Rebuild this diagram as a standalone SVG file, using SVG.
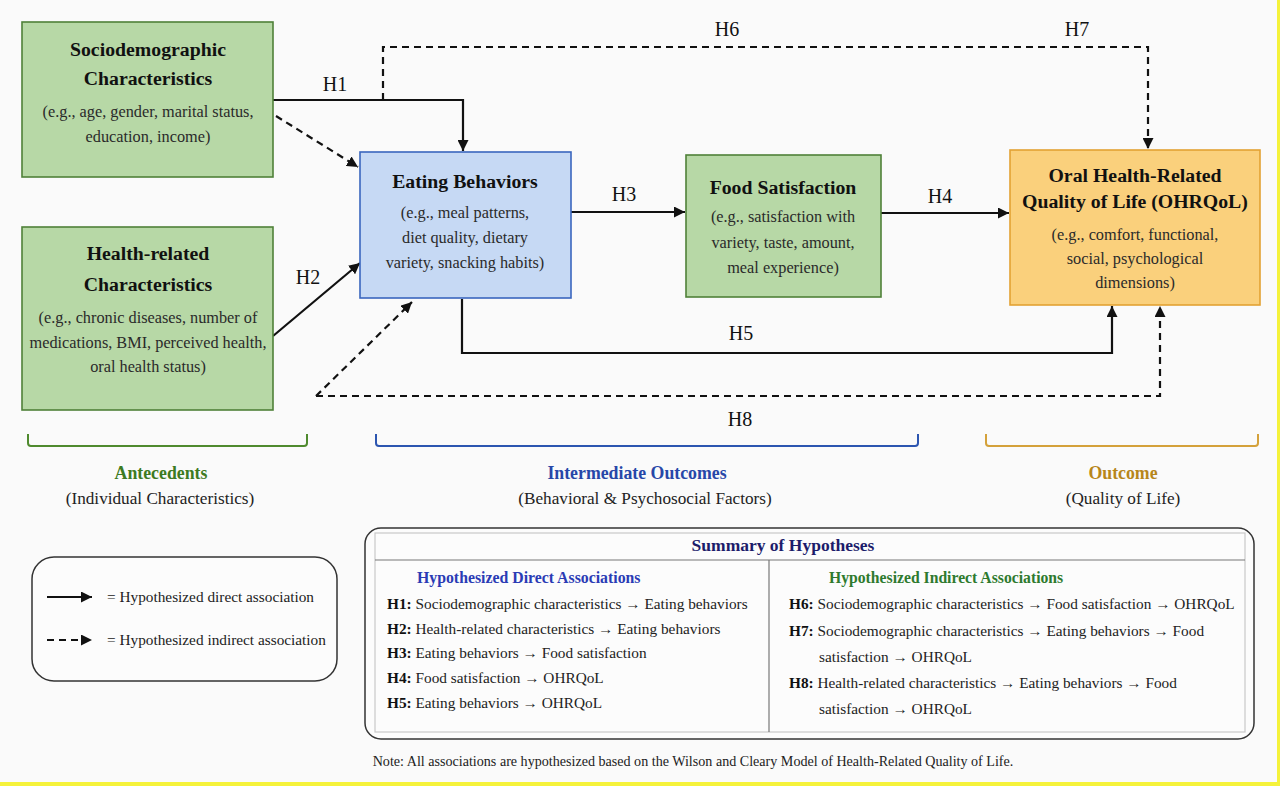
<svg xmlns="http://www.w3.org/2000/svg" width="1280" height="786" viewBox="0 0 1280 786" font-family="'Liberation Serif', 'DejaVu Serif', 'Noto Serif', serif">
<defs>
<marker id="ah" viewBox="0 0 10 10" refX="10" refY="5" markerWidth="11" markerHeight="11" markerUnits="userSpaceOnUse" orient="auto">
<path d="M0,0 L10,5 L0,10 z" fill="#111"/>
</marker>
<style>
text{fill:#222}
.t{font-size:19.8px;font-weight:bold;text-anchor:middle;fill:#111}
.b{font-size:16.3px;text-anchor:middle;fill:#2a2a2a}
.h{font-size:20px;text-anchor:middle;fill:#111}
.sol{fill:none;stroke:#111;stroke-width:2.2}
.dsh{fill:none;stroke:#111;stroke-width:2.2;stroke-dasharray:7,5}
.s{font-size:15.3px;fill:#222}
.k{font-weight:bold;fill:#111}
.bl{font-size:17.8px;font-weight:bold;text-anchor:middle}
.bs{font-size:17.2px;text-anchor:middle}
</style>
</defs>
<rect x="0" y="0" width="1280" height="786" fill="#fafafa"/>
<rect x="1277" y="0" width="3" height="786" fill="#f5f23a"/>
<rect x="0" y="782" width="1280" height="4" fill="#f5f23a"/>

<g id="connectors">
<path class="sol" d="M273,100 H463 V151" marker-end="url(#ah)"/>
<path class="dsh" d="M383,100 V47 H1148 V149" marker-end="url(#ah)"/>
<path class="dsh" d="M276,116 L358,167" marker-end="url(#ah)"/>
<path class="sol" d="M273,336 L360,263" marker-end="url(#ah)"/>
<path class="dsh" d="M316,396 L412,302" marker-end="url(#ah)"/>
<path class="dsh" d="M316,396 H1160 V306" marker-end="url(#ah)"/>
<path class="sol" d="M571,212 H685" marker-end="url(#ah)"/>
<path class="sol" d="M881,213 H1009" marker-end="url(#ah)"/>
<path class="sol" d="M462,299 V353 H1112 V306" marker-end="url(#ah)"/>
<text class="h" x="335" y="91">H1</text>
<text class="h" x="308" y="284">H2</text>
<text class="h" x="624" y="201">H3</text>
<text class="h" x="940" y="203">H4</text>
<text class="h" x="741" y="340">H5</text>
<text class="h" x="727" y="36">H6</text>
<text class="h" x="1077" y="36">H7</text>
<text class="h" x="740" y="426">H8</text>
</g>

<g id="sociodemographic">
<rect x="22" y="22" width="251" height="155" fill="#b7d8a6" stroke="#4f8139" stroke-width="1.6"/>
<text class="t" x="148" y="56">Sociodemographic</text>
<text class="t" x="148" y="85">Characteristics</text>
<text class="b" x="148" y="117">(e.g., age, gender, marital status,</text>
<text class="b" x="148" y="142">education, income)</text>
</g>

<g id="health">
<rect x="22" y="227" width="251" height="183" fill="#b7d8a6" stroke="#4f8139" stroke-width="1.6"/>
<text class="t" x="148" y="260">Health-related</text>
<text class="t" x="148" y="291">Characteristics</text>
<text class="b" x="148" y="323">(e.g., chronic diseases, number of</text>
<text class="b" x="148" y="348">medications, BMI, perceived health,</text>
<text class="b" x="148" y="372">oral health status)</text>
</g>

<g id="eating">
<rect x="360" y="152" width="211" height="146" fill="#c6d9f4" stroke="#3a66be" stroke-width="1.6"/>
<text class="t" x="465" y="188">Eating Behaviors</text>
<text class="b" x="465" y="218">(e.g., meal patterns,</text>
<text class="b" x="465" y="243">diet quality, dietary</text>
<text class="b" x="465" y="268">variety, snacking habits)</text>
</g>

<g id="food">
<rect x="686" y="155" width="195" height="142" fill="#b7d8a6" stroke="#4f8139" stroke-width="1.6"/>
<text class="t" x="783" y="194">Food Satisfaction</text>
<text class="b" x="783" y="222">(e.g., satisfaction with</text>
<text class="b" x="783" y="248">variety, taste, amount,</text>
<text class="b" x="783" y="273">meal experience)</text>
</g>

<g id="ohrqol">
<rect x="1010" y="150" width="250" height="155" fill="#fad07c" stroke="#e3a233" stroke-width="1.6"/>
<text class="t" x="1135" y="182">Oral Health-Related</text>
<text class="t" x="1135" y="208">Quality of Life (OHRQoL)</text>
<text class="b" x="1135" y="240">(e.g., comfort, functional,</text>
<text class="b" x="1135" y="264">social, psychological</text>
<text class="b" x="1135" y="288">dimensions)</text>
</g>

<g id="brackets">
<path d="M28,434 V443 Q28,446 31,446 H304 Q307,446 307,443 V434" fill="none" stroke="#4f8a2e" stroke-width="2"/>
<path d="M376,434 V443 Q376,446 379,446 H915 Q918,446 918,443 V434" fill="none" stroke="#2c55b0" stroke-width="2"/>
<path d="M986,434 V443 Q986,446 989,446 H1255 Q1258,446 1258,443 V434" fill="none" stroke="#d4a13a" stroke-width="2"/>
<text class="bl" x="161" y="479" style="fill:#3d7a22">Antecedents</text>
<text class="bs" x="160" y="504">(Individual Characteristics)</text>
<text class="bl" x="637" y="479" style="fill:#2747a8">Intermediate Outcomes</text>
<text class="bs" x="645" y="504">(Behavioral &amp; Psychosocial Factors)</text>
<text class="bl" x="1123" y="479" style="fill:#b7861a">Outcome</text>
<text class="bs" x="1123" y="504">(Quality of Life)</text>
</g>

<g id="legend">
<rect x="32" y="557" width="305" height="124" rx="22" fill="#fcfcfc" stroke="#333" stroke-width="1.5"/>
<path class="sol" d="M47,597 H92" marker-end="url(#ah)"/>
<path class="dsh" d="M47,640 H92" marker-end="url(#ah)"/>
<text x="107" y="602" font-size="15.3">= Hypothesized direct association</text>
<text x="107" y="645" font-size="15.3">= Hypothesized indirect association</text>
</g>

<g id="summary">
<rect x="365" y="528" width="889" height="211" rx="16" fill="#fcfcfc" stroke="#333" stroke-width="1.5"/>
<rect x="375" y="533" width="870" height="199" fill="none" stroke="#c8c8c8" stroke-width="1.2"/>
<line x1="375" y1="560" x2="1245" y2="560" stroke="#777" stroke-width="1.2"/>
<line x1="769" y1="560" x2="769" y2="732" stroke="#777" stroke-width="1.2"/>
<text x="783" y="551" font-size="17.5" font-weight="bold" text-anchor="middle" style="fill:#1c1c6b">Summary of Hypotheses</text>
<text x="417" y="583" font-size="15.8" font-weight="bold" style="fill:#2a3bb5">Hypothesized Direct Associations</text>
<text x="829" y="583" font-size="15.7" font-weight="bold" style="fill:#2e7a2e">Hypothesized Indirect Associations</text>
<text class="s" x="387" y="609"><tspan class="k">H1:</tspan> Sociodemographic characteristics → Eating behaviors</text>
<text class="s" x="387" y="634"><tspan class="k">H2:</tspan> Health-related characteristics → Eating behaviors</text>
<text class="s" x="387" y="658"><tspan class="k">H3:</tspan> Eating behaviors → Food satisfaction</text>
<text class="s" x="387" y="683"><tspan class="k">H4:</tspan> Food satisfaction → OHRQoL</text>
<text class="s" x="387" y="708"><tspan class="k">H5:</tspan> Eating behaviors → OHRQoL</text>
<text class="s" x="789" y="609"><tspan class="k">H6:</tspan> Sociodemographic characteristics → Food satisfaction → OHRQoL</text>
<text class="s" x="789" y="636"><tspan class="k">H7:</tspan> Sociodemographic characteristics → Eating behaviors → Food</text>
<text class="s" x="819" y="662">satisfaction → OHRQoL</text>
<text class="s" x="789" y="688"><tspan class="k">H8:</tspan> Health-related characteristics → Eating behaviors → Food</text>
<text class="s" x="819" y="714">satisfaction → OHRQoL</text>
</g>

<text x="693" y="766" font-size="14.1" text-anchor="middle">Note: All associations are hypothesized based on the Wilson and Cleary Model of Health-Related Quality of Life.</text>
</svg>
